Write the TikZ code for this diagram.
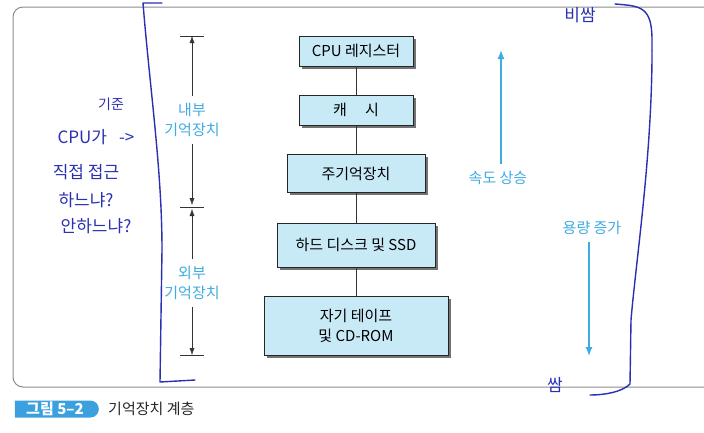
\documentclass[tikz,border=0pt]{standalone}
\usepackage{fontspec}
\setmainfont{Noto Sans CJK KR}
\usetikzlibrary{arrows.meta,shadows,shapes.misc}
\definecolor{boxblue}{RGB}{200,234,246}
\definecolor{labelblue}{RGB}{62,172,226}
\definecolor{penblue}{RGB}{42,48,178}
\definecolor{capblue}{RGB}{58,160,222}
\tikzset{memnode/.style={draw=black!85,fill=boxblue,align=center,inner sep=0pt,
	drop shadow={shadow xshift=2.5pt,shadow yshift=-2.5pt,fill=black!55,opacity=1},
	font=\fontsize{15}{20}\selectfont}}
\tikzset{dimnode/.style={fill=white,text=labelblue,align=center,inner sep=2pt,outer sep=5pt,
	font=\fontsize{15}{20}\selectfont}}
\tikzset{dimline/.style={black!80,-{Latex[length=7pt,width=5pt]}}}
\tikzset{speednode/.style={text=labelblue,inner sep=2pt,outer sep=5pt,font=\fontsize{15}{18}\selectfont}}
\tikzset{speedline/.style={labelblue,line width=1.3pt,-{Latex[length=9pt,width=7pt]}}}
\tikzset{pen/.style={penblue,line width=1.4pt,line cap=round,line join=round}}
\tikzset{pennode/.style={text=penblue,inner sep=0pt,font=\fontsize{17}{20}\selectfont}}

\begin{document}
\begin{tikzpicture}[x=1pt,y=-1pt]
	\useasboundingbox (0,0) rectangle (704,432);

	% figure frame
	\draw[black!45,line width=1pt,rounded corners=10pt] (712,7) -- (13,7) -- (13,387) -- (712,387);

	% hierarchy
	\node[memnode,minimum width=114pt,minimum height=30pt] (reg) at (356,51) {CPU 레지스터};
	\node[memnode,minimum width=114pt,minimum height=30pt] (cache) at (356,110) {캐\hspace{18pt}시};
	\node[memnode,minimum width=138pt,minimum height=38pt] (main) at (356,173.5) {주기억장치};
	\node[memnode,minimum width=158pt,minimum height=44pt] (disk) at (356,245) {하드 디스크 및 SSD};
	\node[memnode,minimum width=184pt,minimum height=59pt] (tape) at (356,325.5) {자기 테이프\\및 CD-ROM};

	\draw[black!80] (reg) -- (cache) (cache) -- (main) (main) -- (disk) (disk) -- (tape);

	% internal / external
	\coordinate (t1) at (192,36);
	\coordinate (t2) at (192,207);
	\coordinate (t3) at (192,355);
	\draw[black!80,line width=0.8pt]
		([xshift=-12pt]t1) -- ([xshift=12pt]t1)
		([xshift=-12pt]t2) -- ([xshift=12pt]t2)
		([xshift=-12pt]t3) -- ([xshift=12pt]t3);

	\node[dimnode] (inmem) at (192,120) {내부\\기억장치};
	\node[dimnode] (exmem) at (192,283) {외부\\기억장치};
	\draw[dimline] (inmem) -- (t1);
	\draw[dimline] (inmem) -- ([yshift=2pt]t2);
	\draw[dimline] (exmem) -- ([yshift=-2pt]t2);
	\draw[dimline] (exmem) -- (t3);

	% speed and capacity
	\node[speednode] (speed) at (498,178) {속도 상승};
	\coordinate (speedtip) at (501,50);
	\draw[speedline] (speedtip |- speed.north) -- (speedtip);

	\node[speednode] (size) at (592,228) {용량 증가};
	\coordinate (sizetip) at (589,356);
	\draw[speedline] (sizetip |- size.south) -- (sizetip);

	% handwritten notes
	\draw[pen] (162,3) -- (143,3) .. controls (150,90) and (162,170) .. (162,250) -- (160,382) -- (195,380);
	\draw[pen] (615,4) .. controls (640,6) and (652,6) .. (652,40)
		.. controls (653,150) and (636,260) .. (631,320) -- (630,384)
		.. controls (622,392) and (605,395) .. (590,395);

	\node[pennode,font=\fontsize{14}{16}\selectfont] (basis) at (111,104) {기준};
	\node[pennode] (note1) at (96,137) {CPU가\hspace{12pt}->};
	\node[pennode] (note2) at (86,172) {직접 접근};
	\node[pennode] (note3) at (86,200) {하느냐?};
	\node[pennode] (note4) at (96,226) {안하느냐?};
	\node[pennode] (dear) at (580,15) {비쌈};
	\node[pennode] (cheap) at (555,385) {쌈};

	% caption
	\node[rounded rectangle,rounded rectangle left arc=none,fill=capblue,text=white,
		minimum width=84pt,minimum height=17pt,inner sep=0pt,font=\fontsize{15}{16}\selectfont\bfseries]
		(capnum) at (55,409) {그림 5--2};
	\node[anchor=west,text=black!85,inner sep=0pt,font=\fontsize{15}{16}\selectfont] (captext) at (108,409) {기억장치 계층};

\end{tikzpicture}
\end{document}
